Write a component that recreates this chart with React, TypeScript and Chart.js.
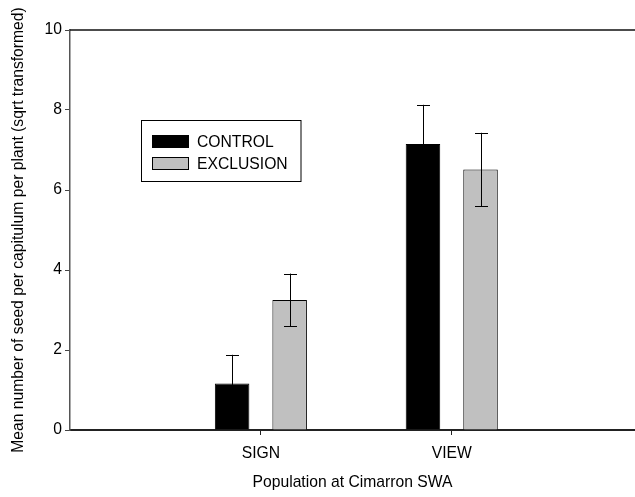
import React, { useEffect, useRef } from "react";
import { Chart, registerables } from "chart.js";

Chart.register(...registerables);

const categories = ["SIGN", "VIEW"];
const categoryPositions = [1, 2];
const controlMeans = [1.16, 7.15];
const controlErrors = [0.72, 0.98];
const exclusionMeans = [3.25, 6.51];
const exclusionErrors = [0.66, 0.92];
const yTicks = [0, 2, 4, 6, 8, 10];
const legendLabels = ["CONTROL", "EXCLUSION"];

const FONT = "'Liberation Sans', Arial, sans-serif";
const FS = 15.7;

const errorBarPlugin = {
  id: "errorBars",
  afterDatasetsDraw(chart: any) {
    const ctx = chart.ctx;
    const yScale = chart.scales.y;
    const errs = [controlErrors, exclusionErrors];
    const means = [controlMeans, exclusionMeans];
    ctx.save();
    ctx.strokeStyle = "#000";
    ctx.lineWidth = 1;
    chart.data.datasets.forEach((_: any, di: number) => {
      const meta = chart.getDatasetMeta(di);
      meta.data.forEach((el: any, i: number) => {
        const x = Math.round(el.x) + 0.5;
        const hi = yScale.getPixelForValue(means[di][i] + errs[di][i]);
        const lo = yScale.getPixelForValue(means[di][i] - errs[di][i]);
        ctx.beginPath();
        ctx.moveTo(x, lo);
        ctx.lineTo(x, hi);
        ctx.moveTo(x - 6.5, Math.round(hi) + 0.5);
        ctx.lineTo(x + 6.5, Math.round(hi) + 0.5);
        ctx.moveTo(x - 6.5, Math.round(lo) + 0.5);
        ctx.lineTo(x + 6.5, Math.round(lo) + 0.5);
        ctx.stroke();
      });
    });
    ctx.restore();
  },
};

const framePlugin = {
  id: "frameAndLegend",
  afterDraw(chart: any) {
    const ctx = chart.ctx;
    const area = chart.chartArea;
    ctx.save();
    // top frame line
    ctx.strokeStyle = "#111";
    ctx.lineWidth = 1.5;
    ctx.beginPath();
    ctx.moveTo(area.left, area.top);
    ctx.lineTo(area.right, area.top);
    ctx.stroke();

    // legend box
    const lx = 141.5;
    const ly = 120.5;
    ctx.lineWidth = 1;
    ctx.strokeStyle = "#000";
    ctx.fillStyle = "#fff";
    ctx.fillRect(lx, ly, 159.5, 61);
    ctx.strokeRect(lx, ly, 159.5, 61);
    const fills = ["#000000", "#c0c0c0"];
    legendLabels.forEach((label, i) => {
      const sy = 135.5 + i * 22;
      ctx.fillStyle = fills[i];
      ctx.fillRect(152.5, sy, 36, 12);
      ctx.strokeStyle = "#000";
      ctx.strokeRect(152.5, sy, 36, 12);
      ctx.fillStyle = "#000";
      ctx.font = `${FS}px ${FONT}`;
      ctx.textBaseline = "alphabetic";
      ctx.textAlign = "left";
      ctx.fillText(label, 197, 147 + i * 22);
    });
    ctx.restore();
  },
};

export default function App() {
  const canvasRef = useRef<HTMLCanvasElement | null>(null);

  useEffect(() => {
    if (!canvasRef.current) return;
    const chart = new Chart(canvasRef.current, {
      type: "bar",
      data: {
        datasets: [
          {
            label: legendLabels[0],
            data: categoryPositions.map((x, i) => ({ x, y: controlMeans[i] })),
            backgroundColor: "#000000",
            borderColor: "#000000",
            borderWidth: 1,
            categoryPercentage: 0.603,
            barPercentage: 0.6,
          },
          {
            label: legendLabels[1],
            data: categoryPositions.map((x, i) => ({ x, y: exclusionMeans[i] })),
            backgroundColor: "#c0c0c0",
            borderColor: "#000000",
            borderWidth: 1,
            categoryPercentage: 0.603,
            barPercentage: 0.6,
          },
        ],
      },
      options: {
        animation: false,
        responsive: true,
        maintainAspectRatio: false,
        layout: { padding: { top: 30, right: 0, left: 0, bottom: 0 } },
        plugins: {
          legend: { display: false },
          tooltip: { enabled: false },
        },
        scales: {
          x: {
            type: "linear",
            min: 0,
            max: 2.96,
            offset: false,
            afterFit(scale: any) {
              scale.height = 67;
            },
            afterBuildTicks(scale: any) {
              scale.ticks = categoryPositions.map((v) => ({ value: v }));
            },
            ticks: {
              color: "#000",
              font: { family: FONT, size: FS },
              padding: 9,
              maxRotation: 0,
              autoSkip: false,
              callback: (v: any) => {
                const idx = categoryPositions.indexOf(Number(v));
                return idx >= 0 ? categories[idx] : "";
              },
            },
            grid: {
              display: true,
              offset: false,
              drawOnChartArea: false,
              drawTicks: true,
              tickLength: 5,
              tickColor: "#222",
              tickWidth: 1,
            },
            border: { display: true, color: "#222", width: 2 },
            title: {
              display: true,
              text: "Population at Cimarron SWA",
              color: "#000",
              font: { family: FONT, size: FS },
              padding: { top: 0, bottom: 5 },
            },
          },
          y: {
            min: 0,
            max: 10,
            afterFit(scale: any) {
              scale.width = 70;
            },
            afterBuildTicks(scale: any) {
              scale.ticks = yTicks.map((v) => ({ value: v }));
            },
            ticks: {
              color: "#000",
              font: { family: FONT, size: FS },
              padding: 3,
            },
            grid: {
              display: true,
              drawOnChartArea: false,
              drawTicks: true,
              tickLength: 5,
              tickColor: "#444",
            },
            border: { display: true, color: "#555", width: 1.5 },
            title: {
              display: true,
              text: "Mean number of seed per capitulum per plant (sqrt transformed)",
              color: "#000",
              font: { family: FONT, size: FS },
              padding: { top: 9, bottom: 0 },
            },
          },
        },
      },
      plugins: [errorBarPlugin, framePlugin],
    } as any);
    return () => chart.destroy();
  }, []);

  return (
    <div
      style={{
        position: "fixed",
        left: 0,
        top: 0,
        width: 635,
        height: 497,
        background: "#fff",
      }}
    >
      <canvas ref={canvasRef} />
    </div>
  );
}
